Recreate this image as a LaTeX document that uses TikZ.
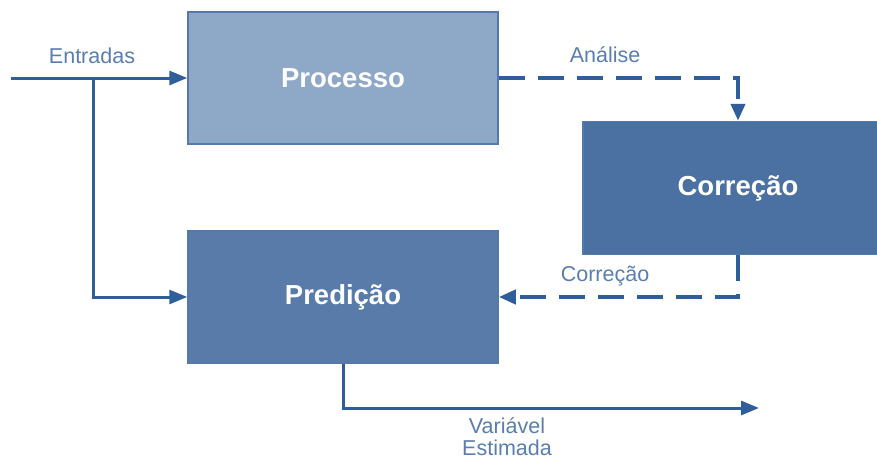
\documentclass[tikz,border=0pt]{standalone}
\usepackage{fontspec}
\setmainfont{Liberation Sans}
\usetikzlibrary{arrows.meta}
\definecolor{linecol}{HTML}{2F5E9B}
\definecolor{labelcol}{HTML}{5A7EAE}
\definecolor{lightbox}{HTML}{8EA8C8}
\definecolor{midbox}{HTML}{587BA9}
\definecolor{darkbox}{HTML}{4B70A2}
\definecolor{boxedge}{HTML}{5479AA}
\tikzset{
  block/.style={rectangle, draw=boxedge, line width=1.5pt, minimum width=310pt,
    minimum height=132pt, inner sep=0pt, text=white, font=\bfseries\fontsize{27.5}{32}\selectfont},
  flow/.style={draw=linecol, line width=3pt, -{Triangle[length=18pt,width=14pt]}},
  feedback/.style={flow, line width=4pt, dash pattern=on 26pt off 13pt,
    -{Triangle[length=17pt,width=14pt]}},
  tag/.style={text=labelcol, font=\fontsize{21.5}{25}\selectfont, inner sep=0pt, align=center}
}
\begin{document}
\begin{tikzpicture}[x=1pt, y=-1pt]
  \useasboundingbox (0,0) rectangle (877,460);
  \clip (0,0) rectangle (877,460);
  \fill[white] (0,0) rectangle (877,460);

  % blocks
  \node[block, fill=lightbox] (proc) at (343,78) {Processo};
  \node[block, fill=midbox] (pred) at (343,297) {Predição};
  \node[block, fill=darkbox, minimum height=133pt] (corr) at (738,188) {Correção};

  % inputs
  \coordinate (in) at (11,78);
  \coordinate (br) at (93,78);
  \draw[flow] (in) -- (proc.west);
  \draw[flow] (br) |- (pred.west);
  \node[tag] (lin) at (92,56) {Entradas};

  % correction loop
  \draw[feedback] (proc.east) -| (corr.north);
  \node[tag] (lan) at (605,55) {Análise};
  \draw[feedback] (corr.south) |- (pred.east);
  \node[tag] (lco) at (605,276) {Correção};

  % estimated output
  \coordinate (out) at (759,408);
  \draw[flow] (pred.south) |- (out);
  \node[tag] (lvar) at (507,437) {Variável\\[-3pt]Estimada};
\end{tikzpicture}
\end{document}
